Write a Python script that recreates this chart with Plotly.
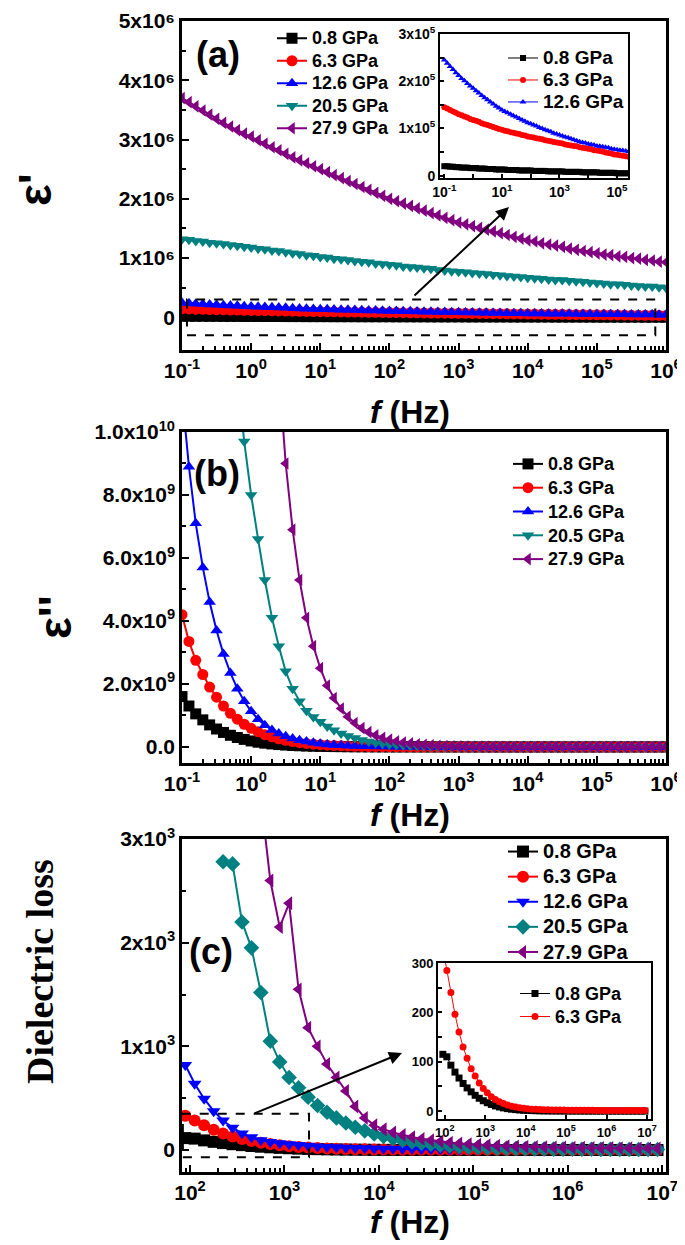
import plotly.graph_objects as go

FONT = "Liberation Sans"
OFF = 8                      # default body margin of the html page
W, H = 685 - OFF, 1245 - OFF

# ---------------- data ----------------
# frequencies (Hz) for panels (a) and (b)
freq_ab = [0.1, 0.126, 0.158, 0.2, 0.251, 0.316, 0.398, 0.501, 0.631, 0.794,
           1, 1.26, 1.58, 2, 2.51, 3.16, 3.98, 5.01, 6.31, 7.94,
           10, 12.6, 15.8, 20, 25.1, 31.6, 39.8, 50.1, 63.1, 79.4,
           100, 126, 158, 200, 251, 316, 398, 501, 631, 794,
           1e3, 1.26e3, 1.58e3, 2e3, 2.51e3, 3.16e3, 3.98e3, 5.01e3, 6.31e3, 7.94e3,
           1e4, 1.26e4, 1.58e4, 2e4, 2.51e4, 3.16e4, 3.98e4, 5.01e4, 6.31e4, 7.94e4,
           1e5, 1.26e5, 1.58e5, 2e5, 2.51e5, 3.16e5, 3.98e5, 5.01e5, 6.31e5, 7.94e5,
           1e6]

# frequencies (Hz) for panel (c)
freq_c = [89.1, 112, 141, 178, 224, 282, 355, 447, 562, 708,
          891, 1.12e3, 1.41e3, 1.78e3, 2.24e3, 2.82e3, 3.55e3, 4.47e3, 5.62e3, 7.08e3,
          8.91e3, 1.12e4, 1.41e4, 1.78e4, 2.24e4, 2.82e4, 3.55e4, 4.47e4, 5.62e4, 7.08e4,
          8.91e4, 1.12e5, 1.41e5, 1.78e5, 2.24e5, 2.82e5, 3.55e5, 4.47e5, 5.62e5, 7.08e5,
          8.91e5, 1.12e6, 1.41e6, 1.78e6, 2.24e6, 2.82e6, 3.55e6, 4.47e6, 5.62e6, 7.08e6,
          8.91e6]

pressures = ["0.8 GPa", "6.3 GPa", "12.6 GPa", "20.5 GPa", "27.9 GPa"]
colors = ["#000000", "#FF0000", "#0000FF", "#008080", "#800080"]

# (a) real permittivity eps', in units of 1e5
EPS1_UNIT = 1e5
eps1_08 = [0.20, 0.20, 0.19, 0.19, 0.18, 0.18, 0.17, 0.17, 0.17, 0.16,
           0.16, 0.16, 0.15, 0.15, 0.15, 0.14, 0.14, 0.14, 0.13, 0.13,
           0.13, 0.13, 0.12, 0.12, 0.12, 0.12, 0.11, 0.11, 0.11, 0.11,
           0.11, 0.10, 0.10, 0.10, 0.10, 0.10, 0.09, 0.09, 0.09, 0.09,
           0.09, 0.09, 0.08, 0.08, 0.08, 0.08, 0.08, 0.08, 0.07, 0.07,
           0.07, 0.07, 0.07, 0.07, 0.06, 0.06, 0.06, 0.06, 0.06, 0.06,
           0.05, 0.05, 0.05, 0.05, 0.05, 0.05, 0.05, 0.04, 0.04, 0.04,
           0.04]
eps1_63 = [1.45, 1.42, 1.39, 1.36, 1.33, 1.30, 1.28, 1.25, 1.23, 1.20,
           1.18, 1.16, 1.14, 1.11, 1.09, 1.07, 1.05, 1.03, 1.01, 0.99,
           0.97, 0.95, 0.94, 0.92, 0.91, 0.89, 0.88, 0.86, 0.85, 0.83,
           0.82, 0.81, 0.79, 0.78, 0.77, 0.75, 0.74, 0.73, 0.71, 0.70,
           0.69, 0.68, 0.66, 0.65, 0.64, 0.63, 0.62, 0.60, 0.59, 0.58,
           0.57, 0.56, 0.54, 0.53, 0.52, 0.51, 0.49, 0.48, 0.47, 0.45,
           0.44, 0.43, 0.42, 0.41, 0.40, 0.38, 0.37, 0.36, 0.35, 0.34,
           0.33]
eps1_126 = [2.45, 2.38, 2.31, 2.25, 2.18, 2.12, 2.06, 2.01, 1.95, 1.90,
            1.85, 1.80, 1.75, 1.70, 1.65, 1.61, 1.56, 1.52, 1.47, 1.43,
            1.39, 1.36, 1.33, 1.30, 1.27, 1.24, 1.21, 1.18, 1.15, 1.12,
            1.10, 1.07, 1.05, 1.02, 1.00, 0.97, 0.95, 0.93, 0.90, 0.88,
            0.86, 0.84, 0.82, 0.80, 0.78, 0.76, 0.74, 0.72, 0.70, 0.69,
            0.67, 0.66, 0.65, 0.63, 0.62, 0.61, 0.60, 0.59, 0.57, 0.56,
            0.55, 0.54, 0.53, 0.52, 0.51, 0.50, 0.49, 0.48, 0.47, 0.46,
            0.45]
eps1_205 = [13.2, 13.1, 12.9, 12.8, 12.6, 12.5, 12.4, 12.2, 12.1, 11.9,
            11.8, 11.6, 11.5, 11.3, 11.2, 11.0, 10.8, 10.7, 10.5, 10.4,
            10.2, 10.1, 9.9, 9.8, 9.7, 9.5, 9.4, 9.3, 9.1, 9.0,
            8.9, 8.8, 8.6, 8.5, 8.4, 8.3, 8.2, 8.0, 7.9, 7.8,
            7.7, 7.6, 7.5, 7.4, 7.3, 7.2, 7.1, 7.0, 6.9, 6.8,
            6.7, 6.6, 6.5, 6.4, 6.3, 6.3, 6.2, 6.1, 6.0, 5.9,
            5.8, 5.7, 5.6, 5.6, 5.5, 5.4, 5.3, 5.2, 5.2, 5.1,
            5.0]
eps1_279 = [37.0, 36.3, 35.6, 34.9, 34.2, 33.5, 32.8, 32.2, 31.6, 31.0,
            30.5, 29.9, 29.3, 28.7, 28.2, 27.6, 27.0, 26.5, 26.0, 25.5,
            25.0, 24.5, 24.0, 23.5, 23.0, 22.5, 22.0, 21.5, 21.0, 20.5,
            20.0, 19.6, 19.2, 18.8, 18.4, 18.0, 17.6, 17.2, 16.8, 16.4,
            16.0, 15.7, 15.4, 15.1, 14.8, 14.5, 14.2, 13.9, 13.6, 13.3,
            13.0, 12.8, 12.5, 12.3, 12.1, 11.9, 11.6, 11.4, 11.2, 11.0,
            10.8, 10.6, 10.5, 10.3, 10.2, 10.0, 9.9, 9.7, 9.6, 9.4,
            9.3]

# (b) imaginary permittivity eps'', in units of 1e9
EPS2_UNIT = 1e9
eps2_08 = [1.6, 1.3, 1.05, 0.86, 0.70, 0.57, 0.46, 0.37, 0.30, 0.24,
           0.19, 0.15, 0.12, 0.095, 0.075, 0.06, 0.047, 0.037, 0.029, 0.023,
           0.018, 0.014, 0.011, 0.009, 0.007, 0.005, 0.004, 0.003, 0.0025, 0.002,
           0.0015, 0.001, 0.001, 0.001, 0.001, 0.001, 0.0005, 0.0005, 0.0005, 0.0005,
           0.0, 0.0, 0.0, 0.0, 0.0, 0.0, 0.0, 0.0, 0.0, 0.0,
           0.0, 0.0, 0.0, 0.0, 0.0, 0.0, 0.0, 0.0, 0.0, 0.0,
           0.0, 0.0, 0.0, 0.0, 0.0, 0.0, 0.0, 0.0, 0.0, 0.0,
           0.0]
eps2_63 = [4.2, 3.35, 2.75, 2.3, 1.9, 1.58, 1.3, 1.07, 0.88, 0.72,
           0.59, 0.48, 0.39, 0.32, 0.26, 0.21, 0.17, 0.135, 0.11, 0.088,
           0.07, 0.056, 0.045, 0.036, 0.028, 0.022, 0.017, 0.013, 0.01, 0.008,
           0.006, 0.005, 0.004, 0.003, 0.002, 0.002, 0.001, 0.001, 0.001, 0.001,
           0.0, 0.0, 0.0, 0.0, 0.0, 0.0, 0.0, 0.0, 0.0, 0.0,
           0.0, 0.0, 0.0, 0.0, 0.0, 0.0, 0.0, 0.0, 0.0, 0.0,
           0.0, 0.0, 0.0, 0.0, 0.0, 0.0, 0.0, 0.0, 0.0, 0.0,
           0.0]
eps2_126 = [11.2, 8.9, 7.1, 5.7, 4.6, 3.7, 2.95, 2.35, 1.85, 1.45,
            1.13, 0.88, 0.69, 0.54, 0.43, 0.34, 0.27, 0.21, 0.17, 0.13,
            0.10, 0.08, 0.063, 0.05, 0.04, 0.031, 0.025, 0.02, 0.015, 0.012,
            0.01, 0.008, 0.006, 0.005, 0.004, 0.003, 0.002, 0.002, 0.001, 0.001,
            0.0, 0.0, 0.0, 0.0, 0.0, 0.0, 0.0, 0.0, 0.0, 0.0,
            0.0, 0.0, 0.0, 0.0, 0.0, 0.0, 0.0, 0.0, 0.0, 0.0,
            0.0, 0.0, 0.0, 0.0, 0.0, 0.0, 0.0, 0.0, 0.0, 0.0,
            0.0]
eps2_205 = [50, 42, 35, 29, 24, 20, 17, 14, 11.8, 9.7,
            8.0, 6.6, 5.3, 4.1, 3.2, 2.4, 1.85, 1.45, 1.15, 0.95,
            0.80, 0.65, 0.53, 0.43, 0.35, 0.28, 0.22, 0.17, 0.13, 0.10,
            0.08, 0.06, 0.045, 0.035, 0.027, 0.02, 0.015, 0.011, 0.008, 0.006,
            0.004, 0.003, 0.002, 0.002, 0.001, 0.001, 0.001, 0.0, 0.0, 0.0,
            0.0, 0.0, 0.0, 0.0, 0.0, 0.0, 0.0, 0.0, 0.0, 0.0,
            0.0, 0.0, 0.0, 0.0, 0.0, 0.0, 0.0, 0.0, 0.0, 0.0,
            0.0]
eps2_279 = [498, 383, 295, 227, 175, 135, 104, 80, 62, 48,
            37, 28, 21, 16, 12.0, 9.0, 6.9, 5.3, 4.1, 3.2,
            2.5, 1.95, 1.55, 1.22, 0.96, 0.76, 0.6, 0.47, 0.37, 0.29,
            0.23, 0.18, 0.14, 0.11, 0.085, 0.065, 0.05, 0.038, 0.029, 0.022,
            0.016, 0.012, 0.009, 0.007, 0.005, 0.004, 0.003, 0.002, 0.002, 0.001,
            0.001, 0.001, 0.0, 0.0, 0.0, 0.0, 0.0, 0.0, 0.0, 0.0,
            0.0, 0.0, 0.0, 0.0, 0.0, 0.0, 0.0, 0.0, 0.0, 0.0,
            0.0]

# (c) dielectric loss
loss_08 = [115, 110, 93, 79, 67, 56, 47, 39, 32, 26,
           21, 17, 13.5, 10.5, 8.3, 6.5, 5.0, 3.9, 3.0, 2.3,
           1.8, 1.4, 1.1, 0.85, 0.65, 0.5, 0.4, 0.32, 0.26, 0.21,
           0.17, 0.14, 0.12, 0.1, 0.09, 0.08, 0.07, 0.06, 0.06, 0.05,
           0.05, 0.04, 0.04, 0.04, 0.03, 0.03, 0.03, 0.03, 0.02, 0.02,
           0.02]
loss_63 = [330, 285, 240, 196, 160, 130, 107, 86, 71, 57,
           46, 37, 29, 23.5, 19, 15.5, 12.5, 10, 8.3, 6.8,
           5.6, 4.7, 4.0, 3.5, 3.1, 2.8, 2.6, 2.4, 2.2, 2.1,
           2.0, 1.9, 1.8, 1.7, 1.65, 1.6, 1.55, 1.5, 1.45, 1.4,
           1.35, 1.3, 1.3, 1.25, 1.2, 1.2, 1.15, 1.1, 1.1, 1.05,
           1.0]
loss_126 = [820, 640, 495, 375, 285, 215, 160, 122, 95, 78,
            66, 56, 48, 41, 35, 30, 26, 22, 19, 16.5,
            14.5, 13, 11.5, 10, 9, 8, 7.2, 6.5, 5.9, 5.4,
            4.9, 4.5, 4.1, 3.8, 3.5, 3.2, 3.0, 2.8, 2.6, 2.4,
            2.3, 2.2, 2.1, 2.0, 1.9, 1.8, 1.7, 1.65, 1.6, 1.55,
            1.5]
loss_205 = [None, None, None, None, 2780, 2760, 2200, 1950, 1520, 1050,
            850, 700, 600, 510, 430, 365, 310, 260, 220, 185,
            155, 130, 110, 92, 77, 65, 55, 46, 39, 33,
            28, 24, 21, 18, 16, 14, 12, 11, 10, 9,
            8.5, 8, 7.5, 7, 6.6, 6.3, 6, 5.7, 5.4, 5.2,
            5.0]
loss_279 = [None, None, None, None, None, None, None, None, 3400, 2600,
            2150, 2380, 1550, 1180, 1000, 830, 700, 570, 420, 310,
            240, 200, 170, 145, 125, 108, 94, 82, 72, 64,
            57, 51, 46, 42, 38, 35, 32, 30, 28, 26,
            24, 23, 22, 21, 20, 19, 18, 17, 16, 16,
            15]

# tick labels
xt_ab_vals = [0.1, 1, 10, 100, 1e3, 1e4, 1e5, 1e6]
xt_ab_text = ["10<sup>-1</sup>", "10<sup>0</sup>", "10<sup>1</sup>", "10<sup>2</sup>",
              "10<sup>3</sup>", "10<sup>4</sup>", "10<sup>5</sup>", "10<sup>6</sup>"]
xt_c_vals = [100, 1e3, 1e4, 1e5, 1e6, 1e7]
xt_c_text = ["10<sup>2</sup>", "10<sup>3</sup>", "10<sup>4</sup>", "10<sup>5</sup>",
             "10<sup>6</sup>", "10<sup>7</sup>"]
yt_a_vals = [0, 1e6, 2e6, 3e6, 4e6, 5e6]
yt_a_text = ["0", "1x10⁶", "2x10⁶", "3x10⁶", "4x10⁶", "5x10⁶"]
yt_b_vals = [0, 2e9, 4e9, 6e9, 8e9, 1e10]
yt_b_text = ["0.0", "2.0x10<sup>9</sup>", "4.0x10<sup>9</sup>", "6.0x10<sup>9</sup>",
             "8.0x10<sup>9</sup>", "1.0x10<sup>10</sup>"]
yt_c_vals = [0, 1e3, 2e3, 3e3]
yt_c_text = ["0", "1x10<sup>3</sup>", "2x10<sup>3</sup>", "3x10<sup>3</sup>"]
xt_ia_vals = [0.1, 10, 1e3, 1e5]
xt_ia_text = ["10<sup>-1</sup>", "10<sup>1</sup>", "10<sup>3</sup>", "10<sup>5</sup>"]
yt_ia_vals = [0, 1e5, 2e5, 3e5]
yt_ia_text = ["0", "1x10<sup>5</sup>", "2x10<sup>5</sup>", "3x10<sup>5</sup>"]
yt_ic_vals = [0, 100, 200, 300]
yt_ic_text = ["0", "100", "200", "300"]

# ---------------- layout helpers (window pixels -> paper) ----------------
def px_x(p):
    return (p - OFF) / W

def px_y(p):
    return 1 - (p - OFF) / H


def log_minor(k0, k1):
    return [m * 10 ** k for k in range(k0, k1) for m in range(2, 10)]


def axis_style(tickvals, ticktext, minor_vals, fsize, lw=2.5, tlen=7):
    return dict(
        automargin=False, ticklabeloverflow="allow",
        tickmode="array", tickvals=tickvals, ticktext=ticktext,
        ticks="inside", ticklen=tlen, tickwidth=2, tickcolor="black",
        minor=dict(tickmode="array", tickvals=minor_vals, ticks="inside",
                   ticklen=4, tickwidth=1.5, tickcolor="black"),
        showline=True, linewidth=lw, linecolor="black", mirror=True,
        showgrid=False, zeroline=False,
        tickfont=dict(family=FONT, size=fsize, color="black", weight="bold"),
    )


def lname(text, size):
    return '<span style="font-size:%dpx">%s</span>' % (size, text)

fig = go.Figure()

symbols_ab = ["square", "circle", "triangle-up", "triangle-down", "triangle-left"]
symbols_c = ["square", "circle", "triangle-down", "diamond", "triangle-left"]

# panel a
for name, col, sym, vals in zip(pressures, colors, symbols_ab,
                                [eps1_08, eps1_63, eps1_126, eps1_205, eps1_279]):
    fig.add_trace(go.Scatter(
        x=freq_ab, y=[v * EPS1_UNIT for v in vals], mode="lines+markers", name=lname(name, 18),
        line=dict(color=col, width=2), marker=dict(symbol=sym, size=11, color=col),
        xaxis="x", yaxis="y", legend="legend"))

# inset a
for name, col, sym, vals in zip(pressures[:3], colors[:3], symbols_ab[:3],
                                [eps1_08, eps1_63, eps1_126]):
    fig.add_trace(go.Scatter(
        x=freq_ab, y=[v * EPS1_UNIT for v in vals], mode="lines+markers", name=lname(name, 19),
        line=dict(color=col, width=1), marker=dict(symbol=sym, size=6, color=col),
        xaxis="x4", yaxis="y4", legend="legend2"))

# panel b
for name, col, sym, vals in zip(pressures, colors, symbols_ab,
                                [eps2_08, eps2_63, eps2_126, eps2_205, eps2_279]):
    fig.add_trace(go.Scatter(
        x=freq_ab, y=[v * EPS2_UNIT for v in vals], mode="lines+markers", name=lname(name, 18),
        line=dict(color=col, width=2), marker=dict(symbol=sym, size=11, color=col),
        xaxis="x2", yaxis="y2", legend="legend3"))

# panel c
for name, col, sym, vals in zip(pressures, colors, symbols_c,
                                [loss_08, loss_63, loss_126, loss_205, loss_279]):
    fig.add_trace(go.Scatter(
        x=freq_c, y=vals, mode="lines+markers", name=lname(name, 20),
        line=dict(color=col, width=2), marker=dict(symbol=sym, size=12, color=col),
        xaxis="x3", yaxis="y3", legend="legend4"))

# inset c
for name, col, sym, vals in zip(pressures[:2], colors[:2], symbols_c[:2],
                                [loss_08, loss_63]):
    fig.add_trace(go.Scatter(
        x=freq_c, y=vals, mode="lines+markers", name=lname(name, 18),
        line=dict(color=col, width=1), marker=dict(symbol=sym, size=7, color=col),
        xaxis="x5", yaxis="y5", legend="legend5"))

# domains from pixel frame positions
dom_x_main = [px_x(182), px_x(666)]
fig.update_layout(
    xaxis=dict(type="log", domain=dom_x_main, range=[-1, 6], anchor="y",
               **axis_style(xt_ab_vals, xt_ab_text, log_minor(-1, 6), 21)),
    yaxis=dict(domain=[px_y(350), px_y(21)], range=[-0.55e6, 5e6], anchor="x",
               **axis_style(yt_a_vals, yt_a_text, [5e5, 1.5e6, 2.5e6, 3.5e6, 4.5e6], 21)),
    xaxis2=dict(type="log", domain=dom_x_main, range=[-1, 6], anchor="y2",
                **axis_style(xt_ab_vals, xt_ab_text, log_minor(-1, 6), 21)),
    yaxis2=dict(domain=[px_y(763), px_y(432)], range=[-5.1e8, 1e10], anchor="x2",
                **axis_style(yt_b_vals, yt_b_text, [1e9, 3e9, 5e9, 7e9, 9e9], 21)),
    xaxis3=dict(type="log", domain=dom_x_main, range=[1.915, 7.04], anchor="y3",
                **axis_style(xt_c_vals, xt_c_text, [90] + log_minor(2, 7), 21)),
    yaxis3=dict(domain=[px_y(1172), px_y(839)], range=[-212, 3000], anchor="x3",
                **axis_style(yt_c_vals, yt_c_text, [500, 1500, 2500], 21)),
    xaxis4=dict(type="log", domain=[px_x(440), px_x(628)], range=[-1.15, 5.38], anchor="y4",
                **axis_style(xt_ia_vals, xt_ia_text, [1, 100, 1e4], 14, lw=2, tlen=4)),
    yaxis4=dict(domain=[px_y(178), px_y(34)], range=[-5e3, 3e5], anchor="x4",
                **axis_style(yt_ia_vals, yt_ia_text, [5e4, 1.5e5, 2.5e5], 14, lw=2, tlen=4)),
    xaxis5=dict(type="log", domain=[px_x(438), px_x(651)], range=[1.83, 7.1], anchor="y5",
                **axis_style(xt_c_vals, xt_c_text, [], 13, lw=2, tlen=4)),
    yaxis5=dict(domain=[px_y(1119), px_y(963)], range=[-16, 300], anchor="x5",
                **axis_style(yt_ic_vals, yt_ic_text, [50, 150, 250], 13, lw=2, tlen=4)),
)


def leg(x, y, size):
    return dict(x=px_x(x), y=px_y(y), xanchor="left", yanchor="top",
                bgcolor="rgba(0,0,0,0)", borderwidth=0, traceorder="normal",
                font=dict(family=FONT, size=size, color="black", weight="bold"),
                itemwidth=30, tracegroupgap=0)

fig.update_layout(
    legend=leg(272, 22, 15),
    legend2=leg(503, 42, 14.6),
    legend3=leg(508, 447, 16),
    legend4=leg(503, 834, 17),
    legend5=leg(515, 977, 15.4),
)

annotations = [
    dict(text="(a)", x=px_x(218), y=px_y(55), font=dict(size=36)),
    dict(text="(b)", x=px_x(217), y=px_y(473), font=dict(size=36)),
    dict(text="(c)", x=px_x(211), y=px_y(951), font=dict(size=36)),
    dict(text="<i>f</i> (Hz)", x=px_x(410), y=px_y(412), font=dict(size=32)),
    dict(text="<i>f</i> (Hz)", x=px_x(410), y=px_y(815), font=dict(size=32)),
    dict(text="<i>f</i> (Hz)", x=px_x(410), y=px_y(1222), font=dict(size=32)),
    dict(text="ε'", x=px_x(35), y=px_y(190), textangle=-90, font=dict(size=46)),
    dict(text="ε''", x=px_x(55), y=px_y(617), textangle=-90, font=dict(size=46)),
    dict(text="Dielectric loss", x=px_x(40), y=px_y(972), textangle=-90,
         font=dict(size=38, family="Liberation Serif")),
]
ann_list = []
for a in annotations:
    f = dict(family=FONT, color="black", weight="bold")
    f.update(a.pop("font"))
    ann_list.append(dict(xref="paper", yref="paper", xanchor="center", yanchor="middle",
                         showarrow=False, font=f, **a))

# arrows
ann_list.append(dict(xref="paper", yref="paper", x=px_x(509), y=px_y(207),
                     ax=-96, ay=90, text="", showarrow=True, arrowhead=2,
                     arrowsize=1.3, arrowwidth=2, arrowcolor="black"))
ann_list.append(dict(xref="paper", yref="paper", x=px_x(402), y=px_y(1053),
                     ax=-149, ay=61, text="", showarrow=True, arrowhead=2,
                     arrowsize=1.3, arrowwidth=2, arrowcolor="black"))
fig.update_layout(annotations=ann_list)

# dashed zoom boxes
fig.add_shape(type="rect", xref="x", yref="y", x0=0.118, x1=7e5, y0=-3e5, y1=3e5,
              line=dict(color="black", width=2, dash="dash"), layer="above")
fig.add_shape(type="rect", xref="x3", yref="y3", x0=84, x1=1820, y0=-70, y1=350,
              line=dict(color="black", width=2, dash="dash"), layer="above")

fig.update_layout(width=W, height=H, margin=dict(l=0, r=0, t=0, b=0, autoexpand=False),
                  paper_bgcolor="white", plot_bgcolor="white", showlegend=True)

fig.write_html("out.html")
